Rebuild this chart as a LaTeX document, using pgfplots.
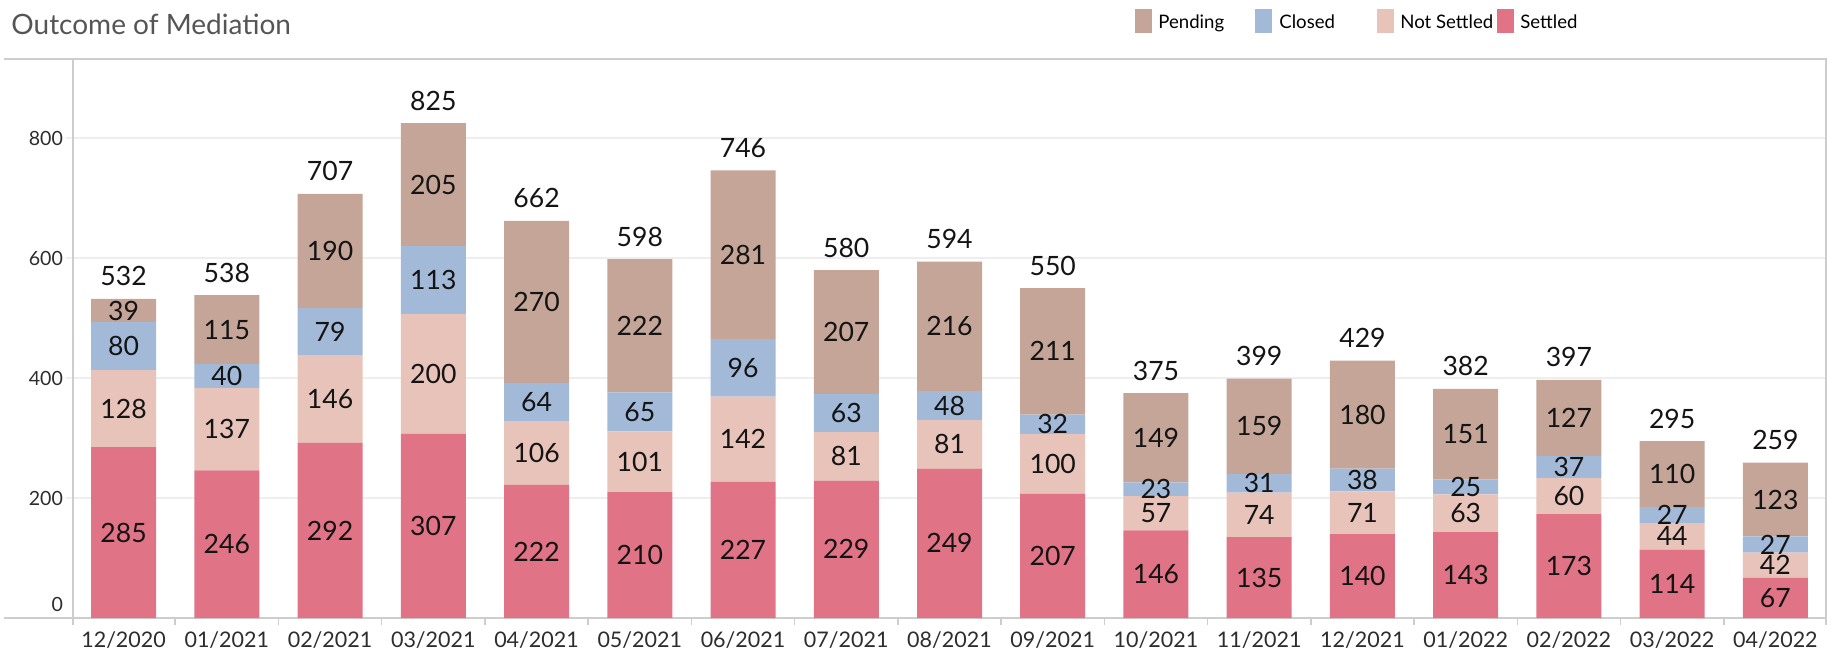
\documentclass[border=0pt]{standalone}
\usepackage{pgfplots}
\usepackage{pgfplotstable}
\pgfplotsset{compat=1.18}
\usepackage{fontspec}
\setmainfont{Lato}

\definecolor{settled}{RGB}{224,115,133}
\definecolor{notsettled}{RGB}{231,195,186}
\definecolor{closed}{RGB}{162,185,216}
\definecolor{pending}{RGB}{196,165,152}
\definecolor{framegray}{RGB}{205,205,205}
\definecolor{gridgray}{RGB}{238,238,238}
\definecolor{titlegray}{RGB}{85,85,85}
\definecolor{tickgray}{RGB}{45,45,45}

\pgfplotsset{
  /pgf/number format/assume math mode=true,
  frame axis/.style={
    at={(0,0)}, anchor=south west,
    scale only axis, width=876.5pt, height=279.5pt,
    xmin=-0.49, xmax=16.49, ymin=0, ymax=931.7,
  },
  seg label/.style={
    only marks, mark=none, nodes near coords, point meta=explicit,
    nodes near coords align=center,
    every node near coord/.append style={anchor=center,
      font=\fontsize{13.3}{15}\selectfont, text=black!92},
  },
}

\pgfplotstableread{
x settled notsettled closed pending total
0  285 128 80  39  532
1  246 137 40  115 538
2  292 146 79  190 707
3  307 200 113 205 825
4  222 106 64  270 662
5  210 101 65  222 598
6  227 142 96  281 746
7  229 81  63  207 580
8  249 81  48  216 594
9  207 100 32  211 550
10 146 57  23  149 375
11 135 74  31  159 399
12 140 71  38  180 429
13 143 63  25  151 382
14 173 60  37  127 397
15 114 44  27  110 295
16 67  42  27  123 259
}\mediation

\begin{document}
\begin{tikzpicture}
\useasboundingbox (-36.5pt,-18pt) rectangle (880pt,309pt);

\begin{axis}[
  frame axis,
  ybar stacked, bar width=32.5pt,
  xtick={0,...,16},
  xticklabels={12/2020,01/2021,02/2021,03/2021,04/2021,05/2021,06/2021,07/2021,08/2021,09/2021,10/2021,11/2021,12/2021,01/2022,02/2022,03/2022,04/2022},
  minor xtick={0.5,1.5,...,15.5},
  ytick={200,400,600,800},
  extra y ticks={0},
  extra y tick style={yticklabel style={yshift=7pt}, grid=none},
  tick align=outside, tick pos=left,
  major tick length=3.5pt, minor tick length=3.5pt,
  x tick style={draw=none},
  minor x tick style={draw=framegray, line width=0.75pt},
  y tick style={draw=gridgray, line width=0.75pt},
  ymajorgrids, grid style={draw=gridgray, line width=0.75pt},
  axis line style={draw=framegray, line width=0.75pt},
  xticklabel style={font=\fontsize{10.75}{12}\selectfont, text=tickgray},
  yticklabel style={font=\fontsize{9.8}{11}\selectfont, text=tickgray, xshift=2pt},
]
\addplot [fill=settled, draw=none] table [x=x, y=settled] {\mediation};
\addplot [fill=notsettled, draw=none] table [x=x, y=notsettled] {\mediation};
\addplot [fill=closed, draw=none] table [x=x, y=closed] {\mediation};
\addplot [fill=pending, draw=none] table [x=x, y=pending] {\mediation};
\end{axis}

% value labels, centred in each segment, and totals above each bar
\begin{axis}[frame axis, hide axis, clip=false]
\addplot [seg label] table [x=x, y expr=\thisrow{settled}/2, meta=settled] {\mediation};
\addplot [seg label] table [x=x, y expr=\thisrow{settled}+\thisrow{notsettled}/2, meta=notsettled] {\mediation};
\addplot [seg label] table [x=x, y expr=\thisrow{settled}+\thisrow{notsettled}+\thisrow{closed}/2, meta=closed] {\mediation};
\addplot [seg label] table [x=x, y expr=\thisrow{settled}+\thisrow{notsettled}+\thisrow{closed}+\thisrow{pending}/2, meta=pending] {\mediation};
\addplot [seg label, every node near coord/.append style={anchor=base, yshift=6.5pt}]
  table [x=x, y=total, meta=total] {\mediation};
\end{axis}

% frame extensions
\draw [framegray, line width=0.75pt] (-34.5pt,279.5pt) -- (0,279.5pt);
\draw [framegray, line width=0.75pt] (-34.5pt,0pt) -- (0,0pt);
\draw [framegray, line width=0.75pt] (0,0) -- (0,-3.5pt);
\draw [framegray, line width=0.75pt] (876.5pt,0) -- (876.5pt,-3.5pt);

% title
\node [anchor=base west, inner sep=0pt, text=titlegray, font=\fontsize{14}{16}\selectfont]
  at (-31pt,291.5pt) {Outcome of Mediation};

% legend
\fill [pending] (531pt,292.5pt) rectangle (539.5pt,304.5pt);
\node [anchor=base west, inner sep=0pt, font=\fontsize{9.3}{11}\selectfont] at (542.5pt,294.5pt) {Pending};
\fill [closed] (591pt,292.5pt) rectangle (599.5pt,304.5pt);
\node [anchor=base west, inner sep=0pt, font=\fontsize{9.3}{11}\selectfont] at (603pt,294.5pt) {Closed};
\fill [notsettled] (652pt,292.5pt) rectangle (660.5pt,304.5pt);
\node [anchor=base west, inner sep=0pt, font=\fontsize{9.3}{11}\selectfont] at (663.5pt,294.5pt) {Not Settled};
\fill [settled] (712pt,292.5pt) rectangle (720.5pt,304.5pt);
\node [anchor=base west, inner sep=0pt, font=\fontsize{9.3}{11}\selectfont] at (723.5pt,294.5pt) {Settled};
\end{tikzpicture}
\end{document}
